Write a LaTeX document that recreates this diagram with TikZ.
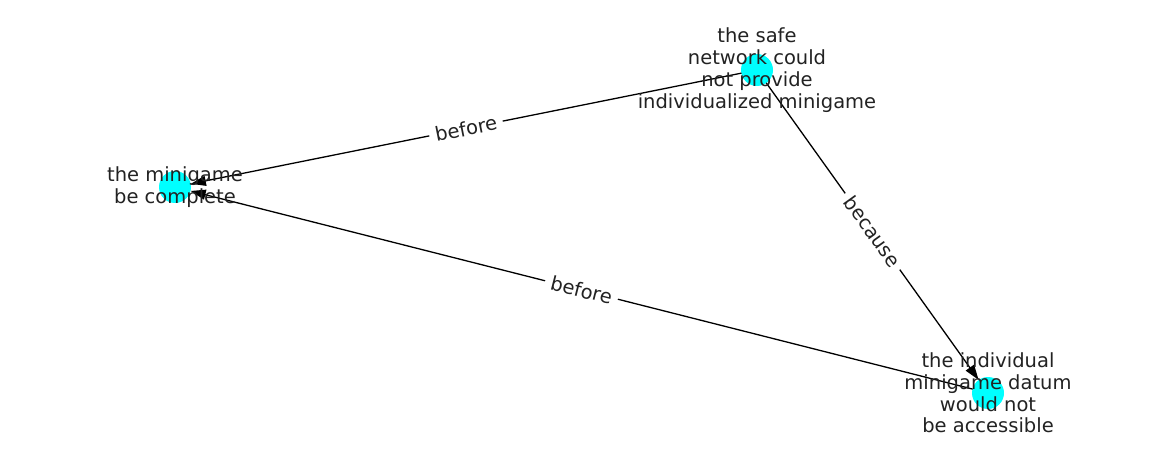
\documentclass[tikz,border=0pt]{standalone}
\usepackage{fontspec}
\setmainfont{DejaVu Sans}
\usetikzlibrary{arrows.meta}
\definecolor{nodecyan}{RGB}{0,255,255}
\definecolor{inkgray}{RGB}{34,34,34}
\tikzset{
  dot/.style={circle,fill=nodecyan,draw=none,minimum size=32pt,inner sep=0pt},
  txt/.style={align=center,text=inkgray,font=\fontsize{19.5}{21.8}\selectfont,inner sep=0pt},
  rel/.style={-{Triangle[length=15pt,width=10pt]},line width=1.3pt},
  lbl/.style={fill=white,text=inkgray,inner xsep=6pt,inner ysep=3pt,
    font=\fontsize{19.5}{22}\selectfont,midway,sloped}
}
\begin{document}
\begin{tikzpicture}[x=1pt,y=-1pt,line cap=round,line join=round]
  \useasboundingbox (0,0) rectangle (1162,462);
  \coordinate (pc) at (175,187);
  \coordinate (ps) at (757,70);
  \coordinate (pi) at (988,393);
  \node[dot] (complete) at (pc) {};
  \node[dot] (safe) at (ps) {};
  \node[dot] (individual) at (pi) {};
  \draw[rel] (safe) -- node[lbl] {before} (complete);
  \draw[rel] (individual) -- node[lbl] {before} (complete);
  \draw[rel] (safe) -- node[lbl] {because} (individual);
  \node[txt] at (pc) {the minigame\\be complete};
  \node[txt] at (ps) {the safe\\network could\\not provide\\individualized minigame};
  \node[txt] at (pi) {the individual\\minigame datum\\would not\\be accessible};
\end{tikzpicture}
\end{document}
